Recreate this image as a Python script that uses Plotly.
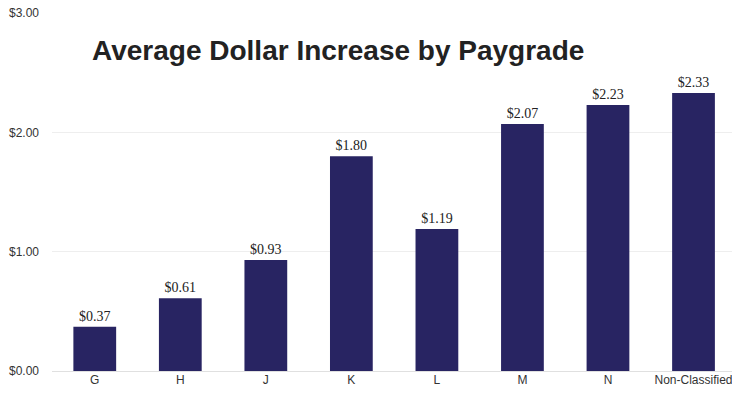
import plotly.graph_objects as go

categories = ["G", "H", "J", "K", "L", "M", "N", "Non-Classified"]
values = [0.37, 0.61, 0.93, 1.80, 1.19, 2.07, 2.23, 2.33]
labels = ["$0.37", "$0.61", "$0.93", "$1.80", "$1.19", "$2.07", "$2.23", "$2.33"]
y_ticks = [0, 1, 2, 3]
y_tick_text = ["$0.00", "$1.00", "$2.00", "$3.00"]

fig = go.Figure(go.Bar(
    x=categories, y=values, width=0.5,
    marker=dict(color="#282462", line=dict(width=0)),
    text=labels, textposition="outside", cliponaxis=False,
    textfont=dict(family="Liberation Serif", size=14, color="#222222"),
))

fig.update_layout(
    width=732, height=398,
    margin=dict(l=52, r=0, t=13, b=27),
    paper_bgcolor="white", plot_bgcolor="white",
    showlegend=False, bargap=0.5,
    font=dict(family="Liberation Sans", size=12, color="#333333"),
    annotations=[dict(
        text="<b>Average Dollar Increase by Paygrade</b>",
        xref="paper", yref="paper", x=0.056, y=0.895,
        xanchor="left", yanchor="middle", showarrow=False,
        font=dict(family="Liberation Sans", size=28, color="#222222"),
    )],
)
fig.update_xaxes(range=[-0.5, 7.45], showgrid=False, showline=False,
                 ticks="", tickfont=dict(size=12, color="#333333"))
fig.update_yaxes(range=[0, 3], tickvals=y_ticks, ticktext=y_tick_text,
                 showgrid=True, gridcolor="#eeeeee", gridwidth=1,
                 zeroline=True, zerolinecolor="#e0e0e0", zerolinewidth=1,
                 showline=False, ticks="", ticklabelstandoff=12,
                 tickfont=dict(size=12, color="#333333"))

fig.write_html("out.html")
